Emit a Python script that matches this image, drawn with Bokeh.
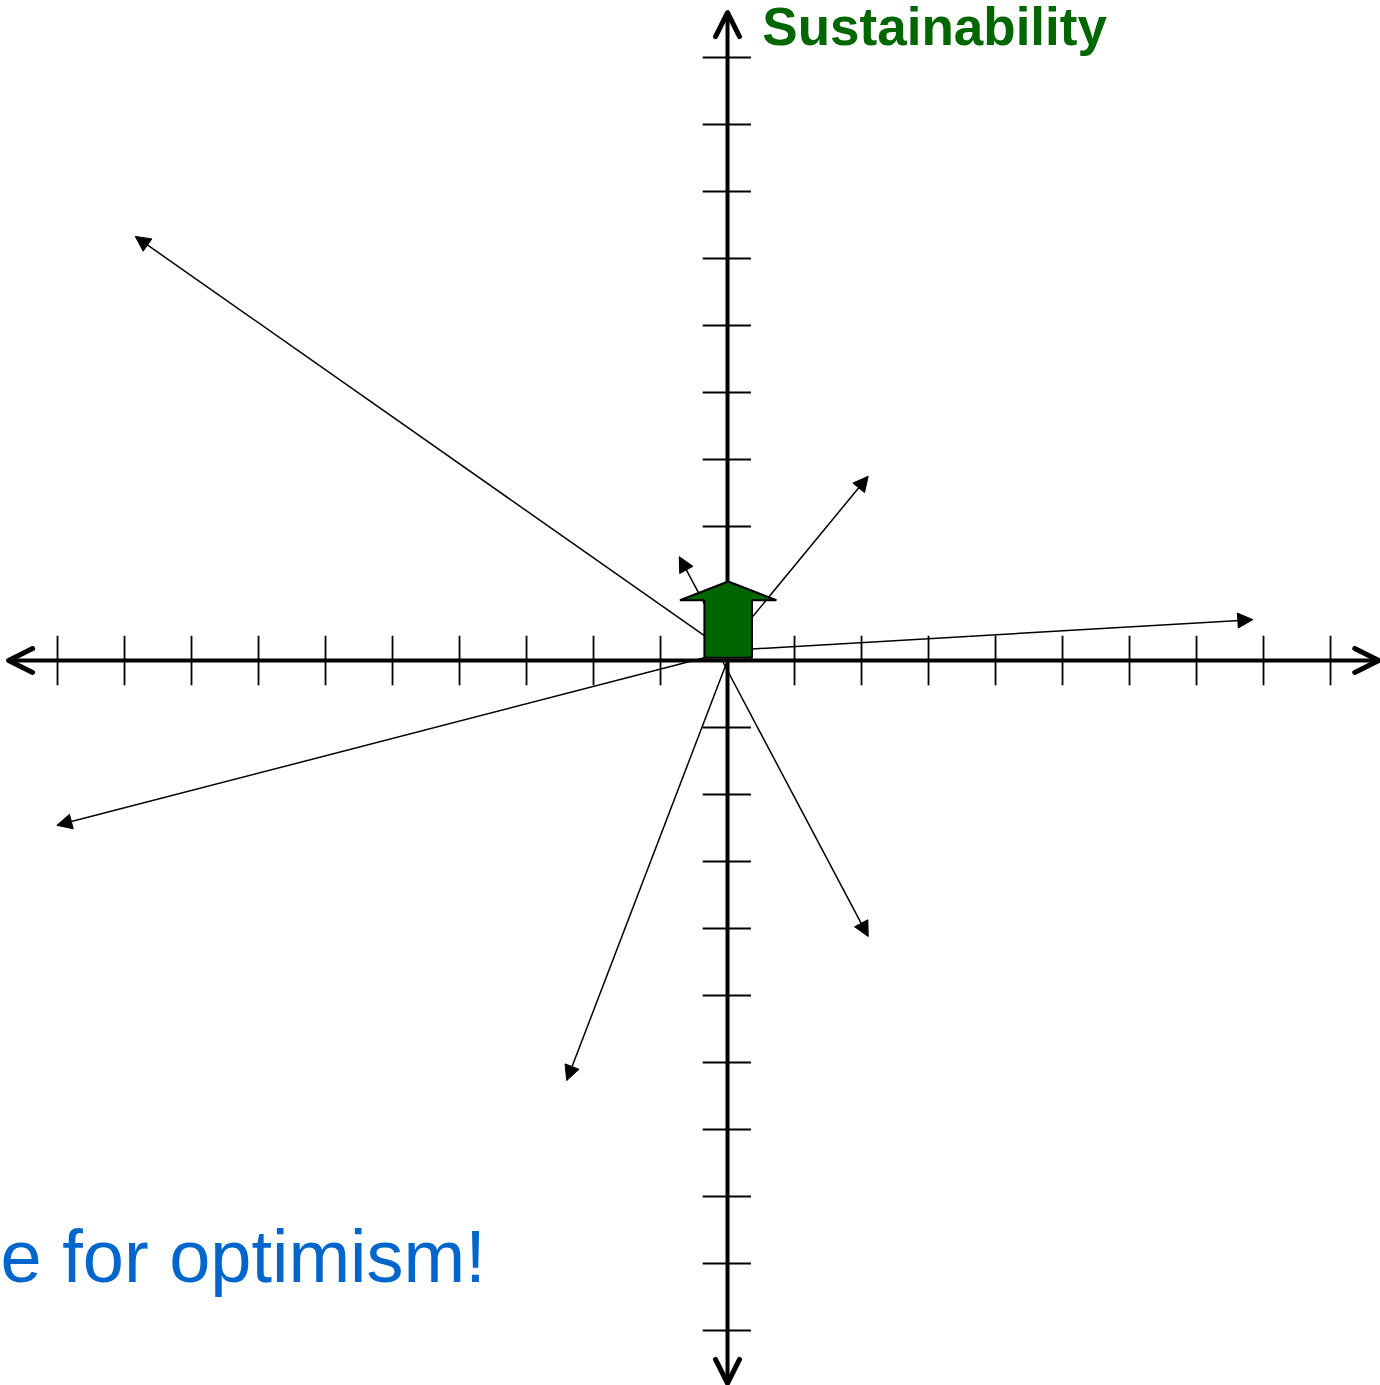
from bokeh.plotting import figure
from bokeh.models import Range1d, Arrow, NormalHead, OpenHead, Label, ColumnDataSource
from bokeh.embed import file_html
from bokeh.resources import INLINE

# ---- data (units = one tick spacing, origin at the axes crossing) ----
x_ticks = [-10, -9, -8, -7, -6, -5, -4, -3, -2, -1, 1, 2, 3, 4, 5, 6, 7, 8, 9]
y_ticks = [-10, -9, -8, -7, -6, -5, -4, -3, -2, -1, 1, 2, 3, 4, 5, 6, 7, 8, 9]
x_axis_extent = [-10.73, 9.72]
y_axis_extent = [-10.79, 9.67]

vec_x_start = [0.0, 0.0, 0.0, 0.0, 0.0, 0.0, -0.08]
vec_y_start = [0.13, 0.13, 0.15, 0.20, 0.20, 0.0, 0.0]
vec_x_end = [-8.84, -10.01, 7.84, 2.10, -0.72, -2.40, 2.10]
vec_y_end = [6.33, -2.46, 0.61, 2.75, 1.55, -6.27, -4.12]

title_text = "Sustainability"
slogan_text = "e for optimism!"

# ---- view window (reference pixels mapped to units) ----
X0, X1 = -10.851, 9.746
Y0, Y1 = -10.821, 9.851

p = figure(width=1380, height=1385, x_range=Range1d(X0, X1), y_range=Range1d(Y0, Y1),
           output_backend="svg", toolbar_location=None, x_axis_type=None, y_axis_type=None,
           min_border=0, outline_line_color=None, background_fill_color="white")
p.grid.visible = False


def axis_head():
    return OpenHead(size=24, line_width=5, line_color="black",
                    line_cap="round", line_join="round")


# main axes with open arrowheads
p.add_layout(Arrow(x_start=x_axis_extent[0], y_start=0, x_end=x_axis_extent[1], y_end=0,
                   line_width=4, line_color="black", level="underlay",
                   start=axis_head(), end=axis_head()))
p.add_layout(Arrow(x_start=0, y_start=y_axis_extent[0], x_end=0, y_end=y_axis_extent[1],
                   line_width=4, line_color="black", level="underlay",
                   start=axis_head(), end=axis_head()))

# tick marks
p.segment(x0=x_ticks, y0=[-0.37] * len(x_ticks), x1=x_ticks, y1=[0.37] * len(x_ticks),
          line_width=1.8, line_color="black")
p.segment(x0=[-0.37] * len(y_ticks), y0=y_ticks, x1=[0.35] * len(y_ticks), y1=y_ticks,
          line_width=1.8, line_color="black")

# thin vectors
src = ColumnDataSource(dict(xs=vec_x_start, ys=vec_y_start, xe=vec_x_end, ye=vec_y_end))
p.add_layout(Arrow(x_start="xs", y_start="ys", x_end="xe", y_end="ye", source=src,
                   line_width=1.5, line_color="black", level="underlay",
                   end=NormalHead(size=15, fill_color="black", line_color="black", line_width=1)))

# green block arrow
cx, shaft_half, head_half, base, shaft_top, tip = 0.01, 0.355, 0.72, 0.04, 0.90, 1.18
gx = [cx - shaft_half, cx + shaft_half, cx + shaft_half, cx + head_half, cx,
      cx - head_half, cx - shaft_half]
gy = [base, base, shaft_top, shaft_top, tip, shaft_top, shaft_top]
p.patch(gx, gy, fill_color="#006600", line_color="black", line_width=2)

p.add_layout(Label(x=0.52, y=9.46, text=title_text, text_font="Liberation Sans",
                   text_font_style="bold", text_font_size="53px", text_color="#006600",
                   text_baseline="alphabetic", text_align="left"))
p.add_layout(Label(x=-10.851, y=-8.891, text=slogan_text, text_font="Liberation Sans",
                   text_font_size="74px", text_color="#0066CC",
                   text_baseline="alphabetic", text_align="left"))

open("out.html", "w").write(file_html(p, INLINE))
